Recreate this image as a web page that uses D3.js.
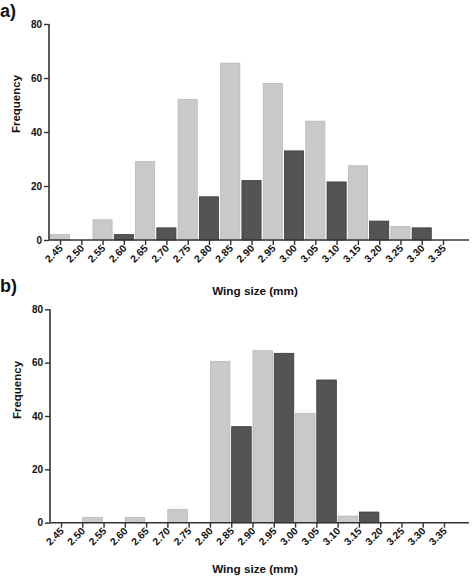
<!DOCTYPE html>
<html>
<head>
<meta charset="utf-8">
<script src="https://cdn.jsdelivr.net/npm/d3@7"></script>
<style>
  html, body { margin: 0; padding: 0; background: #fff; }
  svg { display: block; font-family: "Liberation Sans", Arial, sans-serif; }
</style>
</head>
<body>
<svg id="chart" width="472" height="576"></svg>
<script>
// ---- data ----
const tickLabels = ["2.45","2.50","2.55","2.60","2.65","2.70","2.75","2.80","2.85","2.90",
                    "2.95","3.00","3.05","3.10","3.15","3.20","3.25","3.30","3.35"];
const yTicks = [0, 20, 40, 60, 80];

// panel a: bars centred on the tick values
const aLightBins   = [2.45, 2.55, 2.65, 2.75, 2.85, 2.95, 3.05, 3.15, 3.25];
const aLightValues = [2, 7.5, 29, 52, 65.5, 58, 44, 27.5, 5];
const aDarkBins    = [2.50, 2.60, 2.70, 2.80, 2.90, 3.00, 3.10, 3.20, 3.30];
const aDarkValues  = [0, 2, 4.5, 16, 22, 33, 21.5, 7, 4.5];

// panel b: bars span from the tick value to the next tick
const bLightBins   = [2.50, 2.60, 2.70, 2.80, 2.90, 3.00, 3.10];
const bLightValues = [2, 2, 5, 60.5, 64.5, 41, 2.5];
const bDarkBins    = [2.85, 2.95, 3.05, 3.15];
const bDarkValues  = [36, 63.5, 53.5, 4];

const svg = d3.select("#chart");
const LIGHT = "#c9c9c9", LIGHT_STROKE = "#b9b9b9";
const DARK = "#545454", DARK_STROKE = "#3a3a3a";
const AXIS = "#333";

function panel(cfg) {
  const g = svg.append("g");
  const x = d3.scaleLinear().domain([2.45, 3.35]).range([cfg.x0, cfg.x1]);
  const y = d3.scaleLinear().domain([0, 80]).range([cfg.yBottom, cfg.yTop]);
  const half = 0.0225;

  const bars = (bins, vals, fill, stroke) => {
    const data = bins.map((b, i) => ({ b, v: vals[i] })).filter(d => d.v > 0);
    g.append("g").selectAll("rect").data(data).join("rect")
      .attr("x", d => cfg.centered ? x(d.b - half) : x(d.b + 0.001))
      .attr("width", d => cfg.centered ? x(d.b + half) - x(d.b - half) : x(d.b + 0.047) - x(d.b + 0.001))
      .attr("y", d => y(d.v))
      .attr("height", d => y(0) - y(d.v))
      .attr("fill", fill)
      .attr("stroke", stroke)
      .attr("stroke-width", 0.8);
  };
  bars(cfg.lightBins, cfg.lightVals, LIGHT, LIGHT_STROKE);
  bars(cfg.darkBins, cfg.darkVals, DARK, DARK_STROKE);

  // y axis
  const ya = g.append("g").attr("transform", `translate(${cfg.axisX},0)`)
    .call(d3.axisLeft(y).tickValues(yTicks).tickSize(5).tickPadding(2).tickFormat(d3.format("d")));
  ya.select(".domain").attr("d", `M0,${y(80)}V${y(0)}`).attr("stroke", AXIS).attr("stroke-width", 1.6);
  ya.selectAll(".tick line").attr("stroke", AXIS).attr("stroke-width", 1.4);
  ya.selectAll(".tick text").attr("fill", "#111").attr("font-size", 10).attr("font-weight", "bold")
    .attr("font-family", "Liberation Sans, Arial, sans-serif");

  // x axis
  const tickVals = tickLabels.map(Number);
  const xa = g.append("g").attr("transform", `translate(0,${cfg.yBottom})`)
    .call(d3.axisBottom(x).tickValues(tickVals).tickSize(5).tickFormat((d, i) => tickLabels[i]));
  xa.select(".domain").attr("d", `M${cfg.axisX},0H${cfg.axisEnd}`).attr("stroke", AXIS).attr("stroke-width", 1.6);
  xa.selectAll(".tick line").attr("stroke", AXIS).attr("stroke-width", 1.4);
  xa.selectAll(".tick text")
    .attr("fill", "#111").attr("font-size", 10.3).attr("font-weight", "bold")
    .attr("font-family", "Liberation Sans, Arial, sans-serif")
    .attr("text-anchor", "end")
    .attr("dy", null).attr("y", null)
    .attr("transform", "translate(3,9) rotate(-45)");

  // axis titles
  g.append("text").attr("x", cfg.titleX).attr("y", cfg.xTitleY)
    .attr("text-anchor", "middle").attr("font-size", 11.7).attr("font-weight", "bold").attr("fill", "#111")
    .text("Wing size (mm)");
  g.append("text")
    .attr("transform", `translate(${cfg.yTitleX},${cfg.yTitleY}) rotate(-90)`)
    .attr("text-anchor", "middle").attr("font-size", 11.5).attr("font-weight", "bold").attr("fill", "#111")
    .text("Frequency");
  g.append("text").attr("x", 0).attr("y", cfg.labelY)
    .attr("font-size", 18).attr("font-weight", "bold").attr("fill", "#111")
    .text(cfg.label);
}

panel({
  label: "a)", labelY: 17, centered: true,
  x0: 60, x1: 443, axisX: 49, axisEnd: 469,
  yTop: 24, yBottom: 240,
  lightBins: aLightBins, lightVals: aLightValues, darkBins: aDarkBins, darkVals: aDarkValues,
  titleX: 255, xTitleY: 295, yTitleX: 20, yTitleY: 104
});
panel({
  label: "b)", labelY: 292, centered: false,
  x0: 61, x1: 444, axisX: 50, axisEnd: 469,
  yTop: 309.3, yBottom: 522.7,
  lightBins: bLightBins, lightVals: bLightValues, darkBins: bDarkBins, darkVals: bDarkValues,
  titleX: 255, xTitleY: 573, yTitleX: 21, yTitleY: 390
});
</script>
</body>
</html>
